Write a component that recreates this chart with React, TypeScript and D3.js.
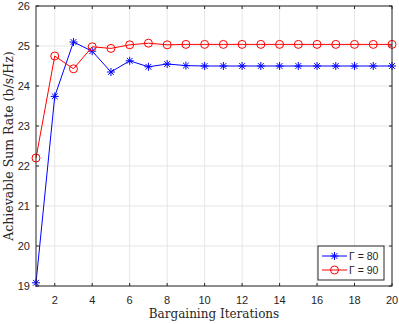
import * as d3 from "d3";

const iterations = [1, 2, 3, 4, 5, 6, 7, 8, 9, 10, 11, 12, 13, 14, 15, 16, 17, 18, 19, 20];
const gamma80 = [19.08, 23.74, 25.1, 24.87, 24.35, 24.63, 24.48, 24.55, 24.51, 24.5, 24.5, 24.5, 24.5, 24.5, 24.5, 24.5, 24.5, 24.5, 24.5, 24.5];
const gamma90 = [22.2, 24.75, 24.43, 24.98, 24.94, 25.03, 25.07, 25.03, 25.04, 25.04, 25.04, 25.04, 25.04, 25.04, 25.04, 25.04, 25.04, 25.04, 25.04, 25.04];
const xTicks = [2, 4, 6, 8, 10, 12, 14, 16, 18, 20];
const yTicks = [19, 20, 21, 22, 23, 24, 25, 26];
const legendLabels = ["Γ = 80", "Γ = 90"];

const W = 399;
const H = 324;
const MARGIN = { top: 6, right: 7, bottom: 38, left: 36 };

const serif = "'DejaVu Serif', 'Liberation Serif', serif";
const sans = "'Liberation Sans', Arial, sans-serif";

function Star({ x, y, color }: { x: number; y: number; color: string }) {
  const r = 4;
  const d = r * 0.72;
  return (
    <g stroke={color} strokeWidth={1}>
      <line x1={x - r} y1={y} x2={x + r} y2={y} />
      <line x1={x} y1={y - r} x2={x} y2={y + r} />
      <line x1={x - d} y1={y - d} x2={x + d} y2={y + d} />
      <line x1={x - d} y1={y + d} x2={x + d} y2={y - d} />
    </g>
  );
}

export default function App() {
  const x = d3.scaleLinear().domain([1, 20]).range([MARGIN.left, W - MARGIN.right]);
  const y = d3.scaleLinear().domain([19, 26]).range([H - MARGIN.bottom, MARGIN.top]);

  const line = d3
    .line<number>()
    .x((_, i) => x(iterations[i]))
    .y((d) => y(d));

  const x0 = MARGIN.left;
  const x1 = W - MARGIN.right;
  const y0 = H - MARGIN.bottom;
  const y1 = MARGIN.top;
  const axisColor = "#262626";

  // legend box
  const lx = 318;
  const ly = 246;
  const lw = 66;
  const lh = 34;

  return (
    <svg width={W} height={H} style={{ position: "absolute", left: 0, top: 0, background: "#fff" }}>
      <rect x={x0} y={y1} width={x1 - x0} height={y0 - y1} fill="#fff" />
      {/* grid */}
      {xTicks.map((t) => (
        <line key={"gx" + t} x1={x(t)} x2={x(t)} y1={y0} y2={y1} stroke="#e6e6e6" strokeWidth={1} />
      ))}
      {yTicks.map((t) => (
        <line key={"gy" + t} x1={x0} x2={x1} y1={y(t)} y2={y(t)} stroke="#e6e6e6" strokeWidth={1} />
      ))}

      {/* series */}
      <path d={line(gamma80) ?? ""} fill="none" stroke="#0000ff" strokeWidth={1} />
      {gamma80.map((v, i) => (
        <Star key={"s" + i} x={x(iterations[i])} y={y(v)} color="#0000ff" />
      ))}
      <path d={line(gamma90) ?? ""} fill="none" stroke="#ff0000" strokeWidth={1} />
      {gamma90.map((v, i) => (
        <circle key={"c" + i} cx={x(iterations[i])} cy={y(v)} r={4} fill="none" stroke="#ff0000" strokeWidth={1} />
      ))}

      {/* box */}
      <rect x={x0} y={y1} width={x1 - x0} height={y0 - y1} fill="none" stroke={axisColor} strokeWidth={1} />
      {xTicks.map((t) => (
        <g key={"tx" + t}>
          <line x1={x(t)} x2={x(t)} y1={y0} y2={y0 - 3} stroke={axisColor} />
          <line x1={x(t)} x2={x(t)} y1={y1} y2={y1 + 3} stroke={axisColor} />
          <text x={x(t)} y={y0 + 18} textAnchor="middle" fontFamily={sans} fontSize={11} fill={axisColor}>
            {t}
          </text>
        </g>
      ))}
      {yTicks.map((t) => (
        <g key={"ty" + t}>
          <line x1={x0} x2={x0 + 3} y1={y(t)} y2={y(t)} stroke={axisColor} />
          <line x1={x1} x2={x1 - 3} y1={y(t)} y2={y(t)} stroke={axisColor} />
          <text x={x0 - 6} y={y(t) + 4} textAnchor="end" fontFamily={sans} fontSize={11} fill={axisColor}>
            {t}
          </text>
        </g>
      ))}

      {/* labels */}
      <text x={(x0 + x1) / 2} y={H - 6} textAnchor="middle" fontFamily={serif} fontSize={12} fill={axisColor}>
        Bargaining Iterations
      </text>
      <text
        transform={`translate(13,${(y0 + y1) / 2}) rotate(-90)`}
        textAnchor="middle"
        fontFamily={serif}
        fontSize={12.5}
        fill={axisColor}
      >
        Achievable Sum Rate (b/s/Hz)
      </text>

      {/* legend */}
      <rect x={lx} y={ly} width={lw} height={lh} fill="#fff" stroke={axisColor} strokeWidth={1} />
      {legendLabels.map((lab, i) => {
        const cy = ly + 10 + i * 14;
        const color = i === 0 ? "#0000ff" : "#ff0000";
        return (
          <g key={lab}>
            <line x1={lx + 4} x2={lx + 29} y1={cy} y2={cy} stroke={color} />
            {i === 0 ? (
              <Star x={lx + 16.5} y={cy} color={color} />
            ) : (
              <circle cx={lx + 16.5} cy={cy} r={4} fill="none" stroke={color} />
            )}
            <text x={lx + 31} y={cy + 4} fontFamily={sans} fontSize={10.5} fill={axisColor}>
              {lab}
            </text>
          </g>
        );
      })}
    </svg>
  );
}
